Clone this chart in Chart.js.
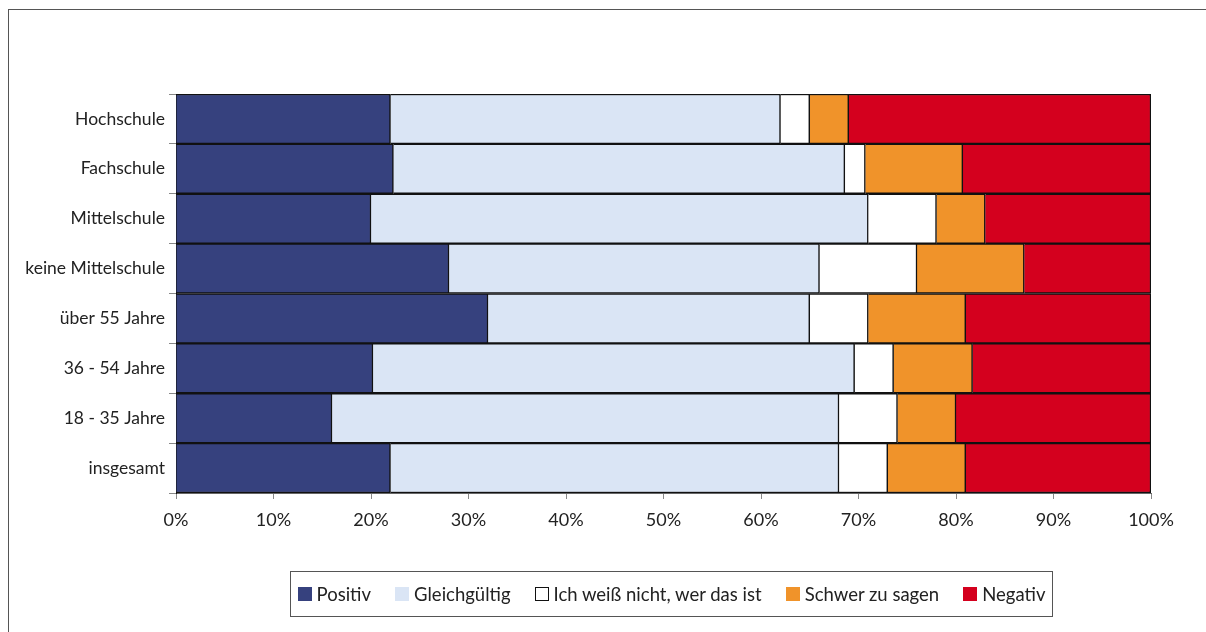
<!DOCTYPE html>
<html>
<head>
<meta charset="utf-8">
<script src="https://cdn.jsdelivr.net/npm/chart.js"></script>
<style>
  html, body { margin: 0; padding: 0; background: #fff; }
  body { width: 1206px; height: 632px; position: relative; overflow: hidden; font-family: Lato, "Noto Sans", sans-serif; }
  #frame { position: absolute; left: 8px; top: 9px; width: 1210px; height: 640px; border: 1px solid #555; box-sizing: border-box; }
  #wrap { position: absolute; left: 0; top: 0; width: 1206px; height: 632px; }
  #legend { position: absolute; left: 290px; top: 571px; width: 763px; height: 46px; border: 1px solid #555; box-sizing: border-box;
    display: flex; align-items: center; justify-content: center; gap: 24px; font-size: 18.5px; color: #222; }
  #legend .item { display: flex; align-items: center; gap: 5px; white-space: nowrap; }
  #legend .sw { width: 14px; height: 14px; box-sizing: border-box; }
</style>
</head>
<body>
<div id="frame"></div>
<div id="wrap"><canvas id="chart" width="1206" height="632"></canvas></div>
<div id="legend"></div>
<script>
// survey answers per group, in percent
const categories = ["Hochschule", "Fachschule", "Mittelschule", "keine Mittelschule",
  "über 55 Jahre", "36 - 54 Jahre", "18 - 35 Jahre", "insgesamt"];
const positiv      = [22, 22.3, 20, 28, 32, 20.2, 16, 22];
const gleichgueltig = [40, 46.3, 51, 38, 33, 49.4, 52, 46];
const weissNicht   = [3, 2.1, 7, 10, 6, 4, 6, 5];
const schwer       = [4, 10, 5, 11, 10, 8.1, 6, 8];
const negativ      = [31, 19.3, 17, 13, 19, 18.3, 20, 19];
const tickLabels = ["0%", "10%", "20%", "30%", "40%", "50%", "60%", "70%", "80%", "90%", "100%"];

const series = [
  { label: "Positiv", data: positiv, color: "#36417e" },
  { label: "Gleichgültig", data: gleichgueltig, color: "#dae5f5" },
  { label: "Ich weiß nicht, wer das ist", data: weissNicht, color: "#ffffff" },
  { label: "Schwer zu sagen", data: schwer, color: "#f0932a" },
  { label: "Negativ", data: negativ, color: "#d4001e" }
];

const fontFamily = 'Lato, "Noto Sans", sans-serif';

new Chart(document.getElementById("chart"), {
  type: "bar",
  data: {
    labels: categories,
    datasets: series.map(s => ({
      label: s.label,
      data: s.data,
      backgroundColor: s.color,
      borderColor: "#111",
      borderWidth: 1.5,
      barPercentage: 1,
      categoryPercentage: 1
    }))
  },
  options: {
    indexAxis: "y",
    responsive: false,
    animation: false,
    layout: { padding: { top: 94, right: 55, bottom: 99, left: 0 } },
    plugins: { legend: { display: false }, tooltip: { enabled: false } },
    scales: {
      x: {
        stacked: true, min: 0, max: 100,
        afterFit: s => { s.height = 40; },
        ticks: { stepSize: 10, padding: 10, color: "#222", font: { family: fontFamily, size: 18 },
          callback: (v, i) => tickLabels[i] },
        grid: { drawOnChartArea: false, drawTicks: true, tickLength: 6, color: "#888" },
        border: { color: "#666" }
      },
      y: {
        stacked: true,
        afterFit: s => { s.width = 176; },
        ticks: { padding: 4, color: "#222", font: { family: fontFamily, size: 17.5 } },
        grid: { drawOnChartArea: false, drawTicks: true, tickLength: 7, color: "#888" },
        border: { color: "#111" }
      }
    }
  }
});

// legend below the chart
const legend = document.getElementById("legend");
series.forEach(s => {
  const item = document.createElement("div");
  item.className = "item";
  const sw = document.createElement("span");
  sw.className = "sw";
  sw.style.background = s.color;
  if (s.color === "#ffffff") sw.style.border = "1.5px solid #111";
  const txt = document.createElement("span");
  txt.textContent = s.label;
  item.append(sw, txt);
  legend.appendChild(item);
});
</script>
</body>
</html>
